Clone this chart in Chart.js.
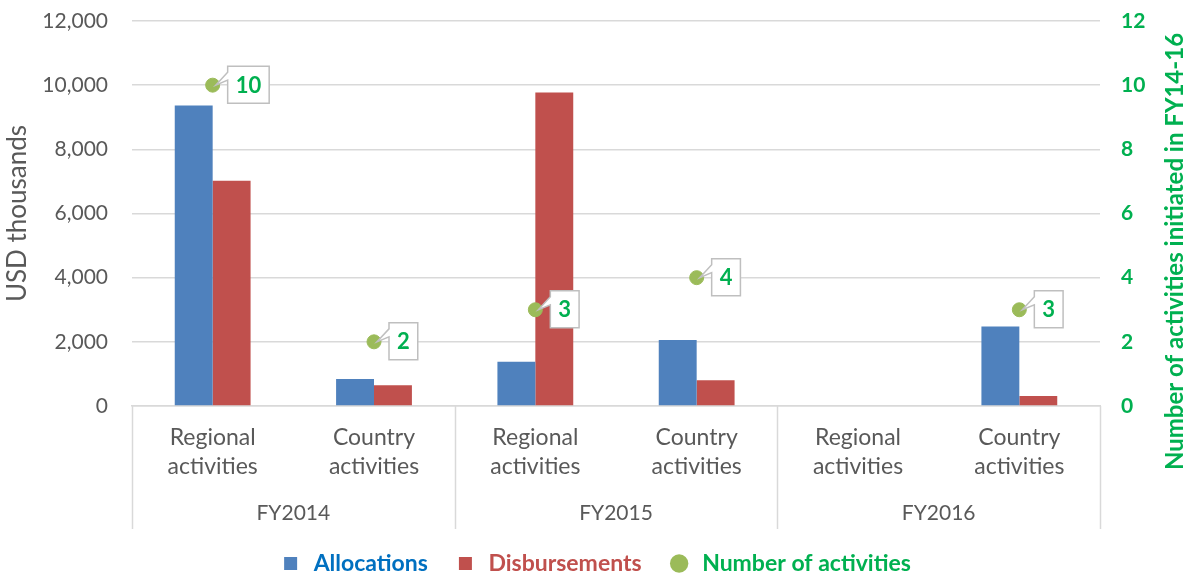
<!DOCTYPE html>
<html>
<head>
<meta charset="utf-8">
<script src="https://cdn.jsdelivr.net/npm/chart.js@4.4.1/dist/chart.umd.min.js"></script>
<style>
  html, body { margin: 0; padding: 0; background: #fff; }
  #wrap { width: 1190px; height: 578px; }
</style>
</head>
<body>
<div id="wrap"><canvas id="chart" width="1190" height="578"></canvas></div>
<script>
const categories = [['Regional', 'activities'], ['Country', 'activities'], ['Regional', 'activities'], ['Country', 'activities'], ['Regional', 'activities'], ['Country', 'activities']];
const years = ['FY2014', 'FY2015', 'FY2016'];
const allocations = [9370, 840, 1380, 2060, null, 2480];
const disbursements = [7020, 650, 9770, 800, null, 310];
const activityCounts = [10, 2, 3, 4, null, 3];
const leftTicks = [0, 2000, 4000, 6000, 8000, 10000, 12000];
const rightTicks = [0, 2, 4, 6, 8, 10, 12];

const FONT = 'Lato';
const GREY_TEXT = '#595959';
const GREEN_TEXT = '#00B050';
const GRID = '#D9D9D9';

// vertical separators between the fiscal year groups
const groupLines = {
    id: 'groupLines',
    afterDraw(chart) {
        const x = chart.scales.x;
        const x2 = chart.scales.x2;
        const ctx = chart.ctx;
        const perGroup = categories.length / years.length;
        const xs = [x.left];
        for (let g = 1; g < years.length; g++) {
            const a = x.getPixelForValue(g * perGroup - 1);
            const b = x.getPixelForValue(g * perGroup);
            xs.push((a + b) / 2);
        }
        xs.push(x.right);
        ctx.save();
        ctx.strokeStyle = GRID;
        ctx.lineWidth = 1.5;
        ctx.beginPath();
        xs.forEach(px => {
            ctx.moveTo(Math.round(px) + 0.5, chart.chartArea.bottom);
            ctx.lineTo(Math.round(px) + 0.5, x2.bottom + 3);
        });
        ctx.stroke();
        ctx.restore();
    }
};

// callout boxes next to the activity points
const callouts = {
    id: 'callouts',
    afterDatasetsDraw(chart) {
        const ctx = chart.ctx;
        const meta = chart.getDatasetMeta(2);
        ctx.save();
        ctx.font = 'bold 22px ' + FONT;
        meta.data.forEach((pt, i) => {
            const v = activityCounts[i];
            if (v === null || v === undefined) return;
            const label = String(v);
            const tw = ctx.measureText(label).width;
            const bx = pt.x + 15;
            const by = pt.y - 19;
            const bw = tw + 16;
            const bh = 37;
            ctx.beginPath();
            ctx.moveTo(bx, by);
            ctx.lineTo(bx + bw, by);
            ctx.lineTo(bx + bw, by + bh);
            ctx.lineTo(bx, by + bh);
            ctx.lineTo(bx, by + 14);
            ctx.lineTo(pt.x + 3, pt.y);
            ctx.lineTo(bx, by + 6);
            ctx.closePath();
            ctx.fillStyle = '#fff';
            ctx.fill();
            ctx.strokeStyle = '#BFBFBF';
            ctx.lineWidth = 1.5;
            ctx.stroke();
            ctx.fillStyle = GREEN_TEXT;
            ctx.textAlign = 'center';
            ctx.textBaseline = 'middle';
            ctx.fillText(label, bx + bw / 2, by + bh / 2 + 1);
        });
        ctx.restore();
    }
};

// right axis title, reading bottom to top
const rightTitle = {
    id: 'rightTitle',
    afterDraw(chart) {
        const ctx = chart.ctx;
        const y1 = chart.scales.y1;
        ctx.save();
        ctx.translate(1175, (y1.top + y1.bottom) / 2 + 38);
        ctx.rotate(-Math.PI / 2);
        ctx.font = 'bold 24px ' + FONT;
        ctx.fillStyle = GREEN_TEXT;
        ctx.textAlign = 'center';
        ctx.textBaseline = 'middle';
        ctx.fillText('Number of activities initiated in FY14-16', 0, 0);
        ctx.restore();
    }
};

const legendColors = ['#0070C0', '#C0504D', GREEN_TEXT];

function noVerticalPadding(scale) {
    scale.paddingTop = 0;
    scale.paddingBottom = 0;
}

new Chart(document.getElementById('chart'), {
    type: 'bar',
    data: {
        labels: categories,
        datasets: [
            {
                label: 'Allocations',
                data: allocations,
                backgroundColor: '#4F81BD',
                yAxisID: 'y',
                categoryPercentage: 0.47,
                barPercentage: 1.0,
                order: 2
            },
            {
                label: 'Disbursements',
                data: disbursements,
                backgroundColor: '#C0504D',
                yAxisID: 'y',
                categoryPercentage: 0.47,
                barPercentage: 1.0,
                order: 2
            },
            {
                type: 'line',
                label: 'Number of activities',
                data: activityCounts,
                yAxisID: 'y1',
                showLine: false,
                pointRadius: 7,
                pointHoverRadius: 7,
                pointBackgroundColor: '#9BBB59',
                pointBorderColor: '#9BBB59',
                backgroundColor: '#9BBB59',
                borderColor: '#9BBB59',
                order: 1
            }
        ]
    },
    options: {
        responsive: false,
        animation: false,
        layout: { padding: { left: 0, right: 0, top: 21, bottom: -7 } },
        plugins: {
            tooltip: { enabled: false },
            legend: {
                position: 'bottom',
                labels: {
                    usePointStyle: true,
                    boxHeight: 13,
                    padding: 26,
                    font: { family: FONT, size: 23, weight: 'bold' },
                    generateLabels(chart) {
                        return chart.data.datasets.map((ds, i) => ({
                            text: ds.label,
                            fillStyle: ds.backgroundColor,
                            strokeStyle: ds.backgroundColor,
                            lineWidth: 0,
                            pointStyle: i < 2 ? 'rect' : 'circle',
                            fontColor: legendColors[i],
                            datasetIndex: i,
                            hidden: false
                        }));
                    }
                }
            }
        },
        scales: {
            x: {
                grid: { display: false },
                border: { color: GRID, width: 1.5 },
                ticks: {
                    color: GREY_TEXT,
                    font: { family: FONT, size: 23, lineHeight: 1.26 },
                    padding: 9,
                    maxRotation: 0,
                    autoSkip: false
                },
                afterFit(scale) { scale.height = 77; }
            },
            x2: {
                type: 'category',
                labels: years,
                position: 'bottom',
                grid: { display: false },
                border: { display: false },
                ticks: {
                    color: GREY_TEXT,
                    font: { family: FONT, size: 21 },
                    padding: 10
                },
                afterFit(scale) { scale.height = 43; }
            },
            y: {
                position: 'left',
                min: 0,
                max: 12000,
                afterBuildTicks(scale) { scale.ticks = leftTicks.map(v => ({ value: v })); },
                grid: { color: GRID, lineWidth: 1.5, drawTicks: false },
                border: { display: false },
                ticks: {
                    color: GREY_TEXT,
                    font: { family: FONT, size: 21 },
                    padding: 24,
                    callback: v => v.toLocaleString('en-US')
                },
                title: {
                    display: true,
                    text: 'USD thousands',
                    color: GREY_TEXT,
                    font: { family: FONT, size: 26 },
                    padding: 2
                },
                afterFit(scale) { scale.width = 132; noVerticalPadding(scale); }
            },
            y1: {
                position: 'right',
                min: 0,
                max: 12,
                afterBuildTicks(scale) { scale.ticks = rightTicks.map(v => ({ value: v })); },
                grid: { display: false, drawTicks: false },
                border: { display: false },
                ticks: {
                    color: GREEN_TEXT,
                    font: { family: FONT, size: 21, weight: 'bold' },
                    padding: 21
                },
                afterFit(scale) { scale.width = 90; noVerticalPadding(scale); }
            }
        }
    },
    plugins: [groupLines, callouts, rightTitle]
});
</script>
</body>
</html>
